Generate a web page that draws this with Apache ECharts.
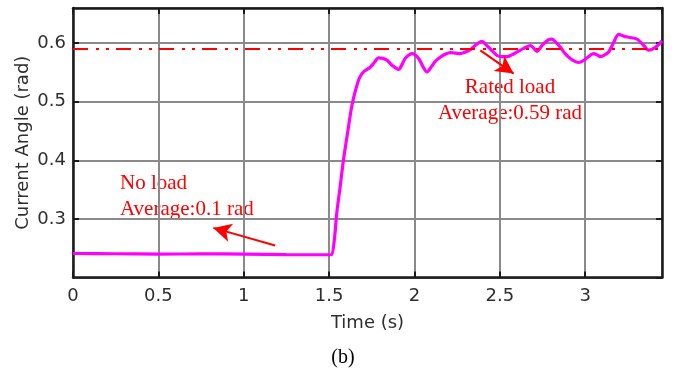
<!DOCTYPE html>
<html>
<head>
<meta charset="utf-8">
<script src="https://cdn.jsdelivr.net/npm/echarts@6/dist/echarts.min.js"></script>
<style>
  html, body { margin: 0; padding: 0; background: #fff; }
  #chart { width: 674px; height: 371px; }
</style>
</head>
<body>
<div id="chart"></div>
<script>
// Current angle response of the motor, no load then rated load applied at ~1.5 s
var timeS = [0, 0.25, 0.5, 0.75, 1.0, 1.25, 1.5, 1.515, 1.53, 1.545, 1.565, 1.584, 1.61, 1.634,
  1.66, 1.68, 1.702, 1.741, 1.765, 1.79, 1.815, 1.839, 1.87, 1.907, 1.93, 1.946, 1.987, 2.024,
  2.05, 2.073, 2.1, 2.122, 2.151, 2.18, 2.21, 2.24, 2.268, 2.3, 2.327, 2.36, 2.396, 2.42, 2.444,
  2.484, 2.51, 2.542, 2.57, 2.601, 2.64, 2.679, 2.718, 2.75, 2.786, 2.806, 2.83, 2.855, 2.88,
  2.913, 2.94, 2.962, 2.99, 3.011, 3.05, 3.07, 3.089, 3.115, 3.138, 3.165, 3.196, 3.225, 3.255,
  3.304, 3.343, 3.372, 3.411, 3.45];
var angleRad = [0.241, 0.2405, 0.240, 0.2402, 0.240, 0.239, 0.2388, 0.239, 0.262, 0.31, 0.355, 0.40, 0.45, 0.494,
  0.525, 0.542, 0.551, 0.559, 0.567, 0.575, 0.574, 0.571, 0.562, 0.555, 0.565, 0.574, 0.582, 0.574,
  0.560, 0.551, 0.560, 0.569, 0.576, 0.581, 0.584, 0.583, 0.582, 0.585, 0.589, 0.597, 0.603, 0.597, 0.590,
  0.579, 0.577, 0.577, 0.580, 0.585, 0.591, 0.596, 0.586, 0.597, 0.606, 0.607, 0.601, 0.593, 0.583,
  0.574, 0.569, 0.567, 0.570, 0.575, 0.582, 0.580, 0.577, 0.580, 0.585, 0.600, 0.615, 0.612, 0.610,
  0.607, 0.596, 0.588, 0.593, 0.604];

// Average under rated load (dash-dot reference line)
var ratedAverage = 0.59;

// Annotation arrows: [tail, head] in (time, angle)
var ratedArrow = [[2.386, 0.5876], [2.581, 0.548]];
var noLoadArrow = [[1.184, 0.2547], [0.822, 0.2847]];

var xRange = [0, 3.45];
var yRange = [0.2, 0.66];

var axisDark = '#1a1a1a';
var labelColor = '#2e2e2e';
var gridGray = '#8a8a8a';
var sansFont = 'DejaVu Sans';
var serifFont = '"Liberation Serif", "Times New Roman", serif';

var chart = echarts.init(document.getElementById('chart'), null, { renderer: 'canvas' });

function boxAxis(pos, range, interval) {
  return {
    type: 'value', position: pos, min: range[0], max: range[1], interval: interval,
    axisLine: { show: true, onZero: false, lineStyle: { color: axisDark, width: 2.5 } },
    axisTick: { show: true, inside: true, length: 6, lineStyle: { color: axisDark, width: 2 } },
    axisLabel: { show: false },
    splitLine: { show: false }
  };
}

function arrowPair(seg) {
  return [
    { coord: seg[0], symbol: 'none' },
    { coord: seg[1], symbol: 'arrow', symbolSize: [14, 18] }
  ];
}

var seriesData = timeS.map(function (t, i) { return [t, angleRad[i]]; });

var option = {
  backgroundColor: '#ffffff',
  animation: false,
  grid: { left: 73, top: 8, width: 589, height: 269.5, containLabel: false },
  xAxis: [
    {
      type: 'value', position: 'bottom', min: xRange[0], max: xRange[1], interval: 0.5,
      axisLine: { show: true, onZero: false, lineStyle: { color: axisDark, width: 2.5 } },
      axisTick: { show: true, inside: true, length: 6, lineStyle: { color: axisDark, width: 2 } },
      axisLabel: { showMaxLabel: false, fontFamily: sansFont, fontSize: 18, color: labelColor, margin: 10 },
      splitLine: { show: true, lineStyle: { color: gridGray, width: 2 } },
      name: 'Time (s)', nameLocation: 'middle', nameGap: 37, nameMoveOverlap: false,
      nameTextStyle: { fontFamily: sansFont, fontSize: 18, color: labelColor }
    },
    boxAxis('top', xRange, 0.5)
  ],
  yAxis: [
    {
      type: 'value', position: 'left', min: yRange[0], max: yRange[1], interval: 0.1,
      axisLine: { show: true, onZero: false, lineStyle: { color: axisDark, width: 2.5 } },
      axisTick: { show: true, inside: true, length: 6, lineStyle: { color: axisDark, width: 2 } },
      axisLabel: { showMinLabel: false, showMaxLabel: false, fontFamily: sansFont, fontSize: 18, color: labelColor, margin: 7,
        formatter: function (v) { return v.toFixed(1); } },
      splitLine: { show: true, lineStyle: { color: gridGray, width: 2 } },
      name: 'Current Angle (rad)', nameLocation: 'middle', nameGap: 41, nameMoveOverlap: false,
      nameTextStyle: { fontFamily: sansFont, fontSize: 18, color: labelColor }
    },
    boxAxis('right', yRange, 0.1)
  ],
  series: [
    {
      type: 'line',
      data: seriesData,
      showSymbol: false,
      smooth: 0.3,
      lineStyle: { color: '#ff00ff', width: 3.2 },
      z: 3,
      markLine: {
        silent: true,
        symbol: 'none',
        label: { show: false },
        lineStyle: { color: '#ff0000', width: 2, type: [15, 8, 3, 7, 3, 7] },
        data: [
          [{ coord: [xRange[0], ratedAverage], symbol: 'none' }, { coord: [xRange[1], ratedAverage], symbol: 'none' }]
        ]
      }
    },
    {
      type: 'line',
      data: [],
      z: 4,
      markLine: {
        silent: true,
        label: { show: false },
        lineStyle: { color: '#ff0000', width: 2, type: 'solid' },
        data: [arrowPair(ratedArrow), arrowPair(noLoadArrow)]
      }
    }
  ],
  graphic: [
    { type: 'text', style: { text: 'Rated load', x: 510, y: 87, textAlign: 'center', textVerticalAlign: 'middle', fill: '#ff0000', font: '21px ' + serifFont } },
    { type: 'text', style: { text: 'Average:0.59 rad', x: 510, y: 113, textAlign: 'center', textVerticalAlign: 'middle', fill: '#ff0000', font: '21px ' + serifFont } },
    { type: 'text', style: { text: 'No load', x: 120, y: 183, textAlign: 'left', textVerticalAlign: 'middle', fill: '#ff0000', font: '21px ' + serifFont } },
    { type: 'text', style: { text: 'Average:0.1 rad', x: 120, y: 209, textAlign: 'left', textVerticalAlign: 'middle', fill: '#ff0000', font: '21px ' + serifFont } },
    { type: 'text', style: { text: '(b)', x: 343, y: 358, textAlign: 'center', textVerticalAlign: 'middle', fill: '#000000', font: '20px ' + serifFont } }
  ]
};

chart.setOption(option);
</script>
</body>
</html>
